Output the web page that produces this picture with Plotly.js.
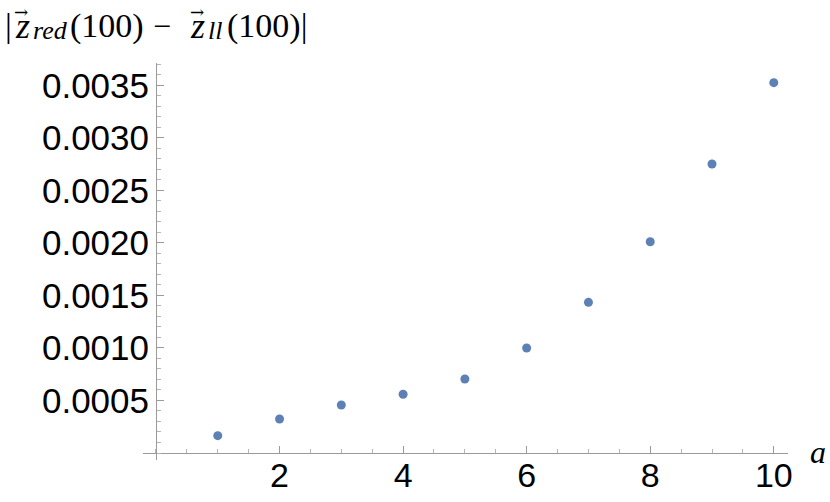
<!DOCTYPE html>
<html>
<head>
<meta charset="utf-8">
<script src="https://cdn.plot.ly/plotly-3.0.1.min.js"></script>
<style>
  html, body { margin: 0; padding: 0; background: #fff; }
  #plot { width: 830px; height: 502px; }
</style>
</head>
<body>
<div id="plot"></div>
<script>
// values
var aValues = [1, 2, 3, 4, 5, 6, 7, 8, 9, 10];
var diffValues = [0.000165, 0.000324, 0.000457, 0.000559, 0.000705, 0.001000, 0.001435, 0.002012, 0.002752, 0.003527];
var xTicks = [2, 4, 6, 8, 10];
var yTicks = [0.0005, 0.0010, 0.0015, 0.0020, 0.0025, 0.0030, 0.0035];

var trace1 = {
  x: aValues,
  y: diffValues,
  mode: "markers",
  type: "scatter",
  marker: { color: "#5e81b5", size: 9 },
  hoverinfo: "x+y"
};

var axisGray = "#9a9a9a";
var sans = "Liberation Sans, Arial, sans-serif";
var serif = "Liberation Serif, serif";

// pixel helpers for the annotations (plot area: x 143..788, y 63..460)
function px(x) { return (x - 143) / 645; }
function py(y) { return (460 - y) / 397; }

// one piece of the title formula, placed by its left edge (or centre)
function piece(text, x, y, size, anchor, family) {
  return {
    xref: "paper", yref: "paper",
    x: px(x), y: py(y),
    xanchor: anchor || "left", yanchor: "middle",
    showarrow: false,
    text: text,
    font: { family: family || serif, size: size, color: "#000" }
  };
}

var layout = {
  width: 830,
  height: 502,
  margin: { l: 143, r: 42, t: 63, b: 42 },
  paper_bgcolor: "#fff",
  plot_bgcolor: "#fff",
  showlegend: false,
  xaxis: {
    range: [-0.21, 10.23],
    anchor: "free",
    position: 0.0176,
    showgrid: false,
    zeroline: false,
    showline: true,
    linecolor: axisGray,
    linewidth: 1,
    tickmode: "array",
    tickvals: xTicks,
    ticks: "inside",
    ticklen: 7,
    tickcolor: axisGray,
    ticklabelstandoff: -8,
    tickfont: { family: sans, size: 34, color: "#000" },
    minor: { dtick: 0.5, tick0: 0, ticks: "inside", ticklen: 4, tickcolor: "#b5b5b5", showgrid: false }
  },
  yaxis: {
    range: [-0.0000667, 0.003714],
    anchor: "free",
    position: 0.0202,
    showgrid: false,
    zeroline: false,
    showline: true,
    linecolor: axisGray,
    linewidth: 1,
    tickmode: "array",
    tickvals: yTicks,
    tickformat: ".4f",
    ticks: "inside",
    ticklen: 7,
    tickcolor: axisGray,
    ticklabelstandoff: 0,
    tickfont: { family: sans, size: 35, color: "#000" },
    minor: { dtick: 0.0001, tick0: 0, ticks: "inside", ticklen: 4, tickcolor: "#b5b5b5", showgrid: false }
  },
  annotations: [
    // |z_red(100) - z_ll(100)|
    piece("|", 3, 26, 34),
    piece("<i>z</i>", 13, 26, 36),
    piece("\u2192", 21, 12, 17, "center", "DejaVu Serif, serif"),
    piece("<i>red</i>", 31, 31, 26),
    piece("(100)", 68, 26, 34),
    piece("\u2212", 162, 26, 32, "center"),
    piece("<i>z</i>", 188, 26, 36),
    piece("\u2192", 197, 12, 17, "center", "DejaVu Serif, serif"),
    piece("<i>ll</i>", 206, 31, 26),
    piece("(100)|", 225, 26, 34),
    // x axis label
    piece("<i>a</i>", 818, 452, 32, "center")
  ]
};

Plotly.newPlot("plot", [trace1], layout, { displayModeBar: false, staticPlot: true });
</script>
</body>
</html>
